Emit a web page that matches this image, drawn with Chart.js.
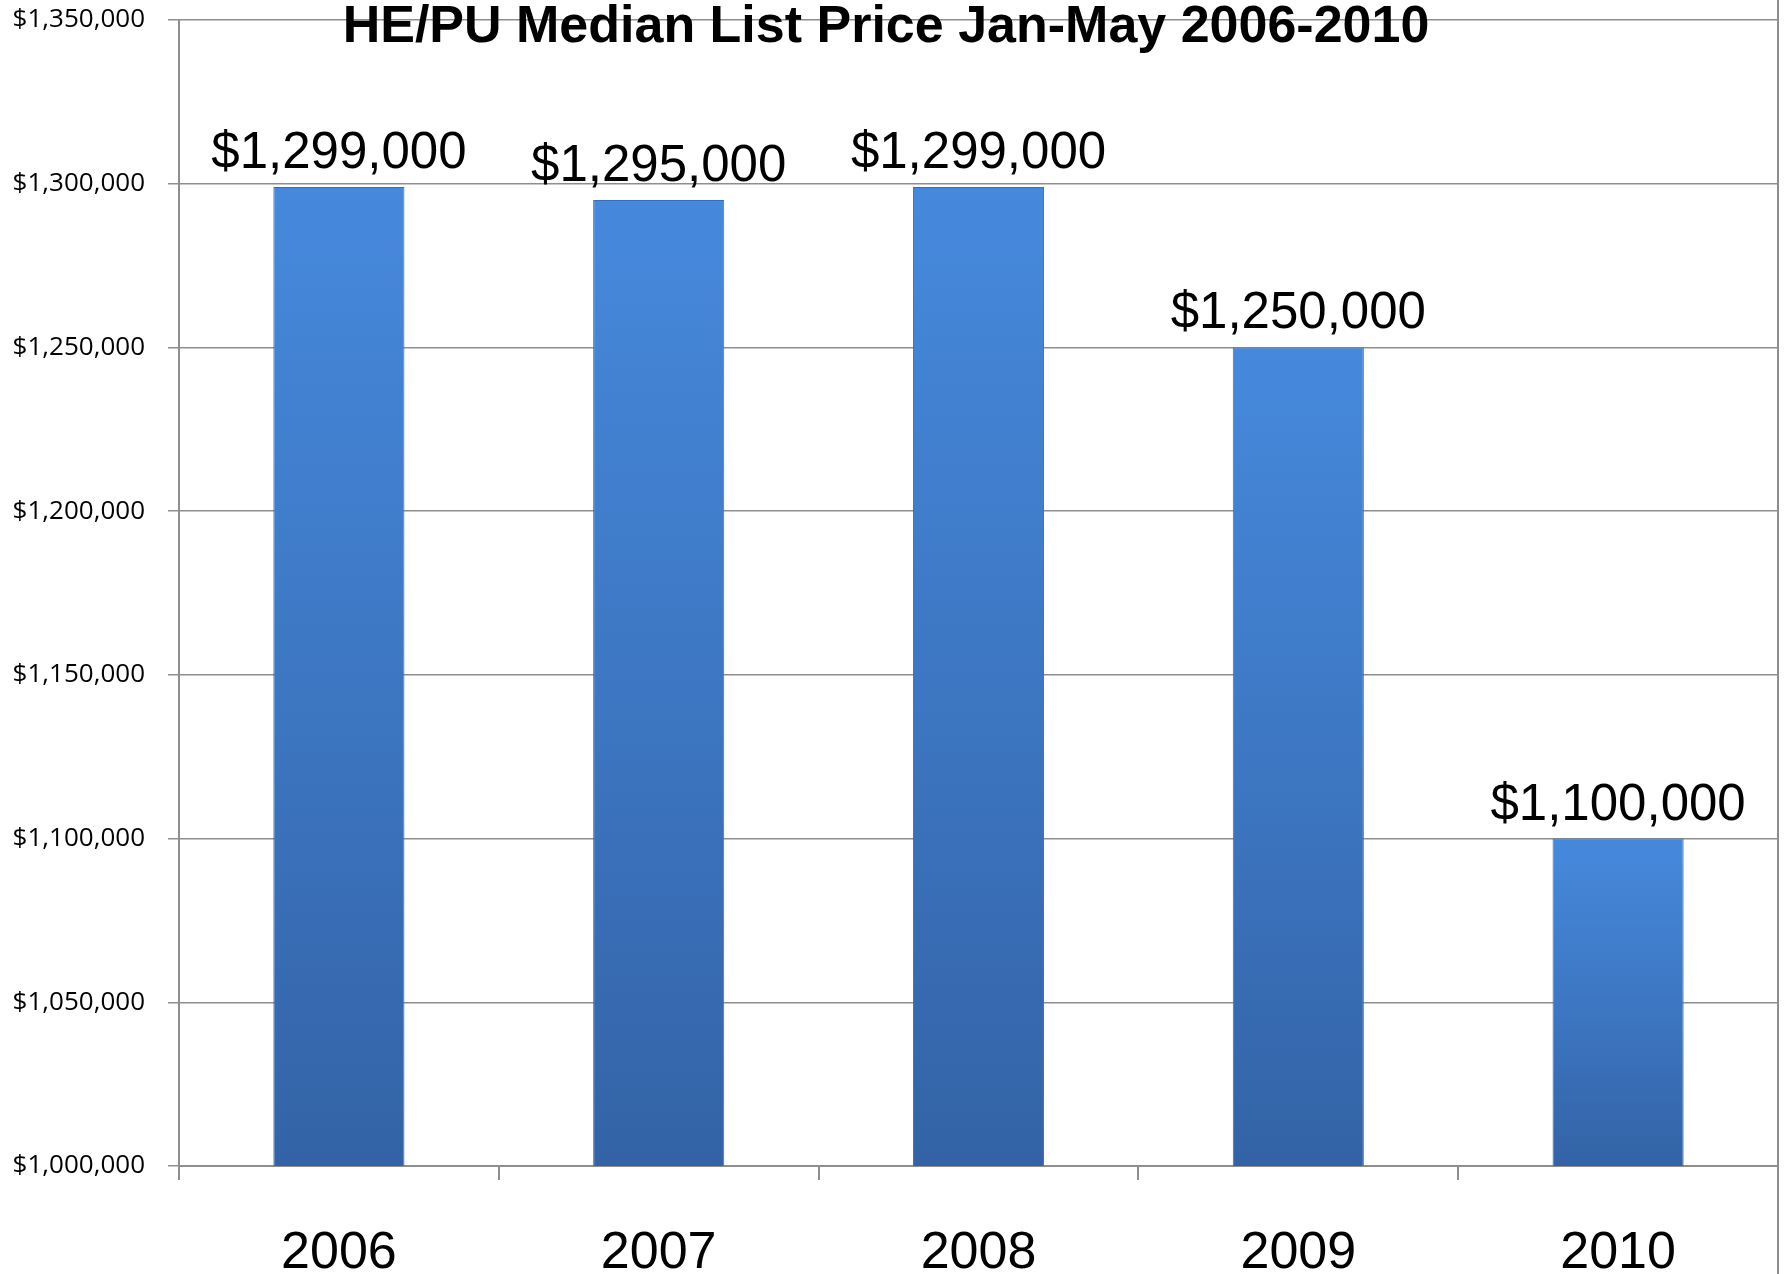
<!DOCTYPE html>
<html>
<head>
<meta charset="utf-8">
<script src="https://cdn.jsdelivr.net/npm/chart.js@4/dist/chart.umd.min.js"></script>
<style>
  html, body { margin: 0; padding: 0; background: #fff; }
  #wrap { width: 1789px; height: 1274px; position: relative; }
</style>
</head>
<body>
<div id="wrap"><canvas id="myChart"></canvas></div>
<script>
const chartTitle = "HE/PU Median List Price Jan-May 2006-2010";
const years = ["2006", "2007", "2008", "2009", "2010"];
const medianPrices = [1299000, 1295000, 1299000, 1250000, 1100000];
const yTickValues = [1000000, 1050000, 1100000, 1150000, 1200000, 1250000, 1300000, 1350000];

const money = (v) => "$" + v.toLocaleString("en-US");

// bar fill: light blue at the top of each bar, darker toward the base
const barFill = (c) => {
  const chart = c.chart;
  if (!chart.chartArea || c.parsed == null) return "#3f7cc9";
  const y = chart.scales.y;
  const top = y.getPixelForValue(c.parsed.y);
  const g = chart.ctx.createLinearGradient(0, top, 0, y.bottom);
  g.addColorStop(0, "#4689dc");
  g.addColorStop(0.5, "#3d77c3");
  g.addColorStop(1, "#3363a6");
  return g;
};

const extras = {
  id: "extras",
  afterDatasetsDraw(chart) {
    const ctx = chart.ctx;
    const meta = chart.getDatasetMeta(0);
    ctx.save();
    ctx.fillStyle = "#000";
    ctx.font = "51px 'Liberation Sans', Arial, sans-serif";
    ctx.textAlign = "center";
    ctx.textBaseline = "alphabetic";
    meta.data.forEach((bar, i) => {
      ctx.fillText(money(medianPrices[i]), bar.x, bar.y - 19);
    });
    ctx.restore();
  },
  afterDraw(chart) {
    const ctx = chart.ctx;
    const area = chart.chartArea;
    ctx.save();
    // right frame edge
    ctx.strokeStyle = "#8e8e8e";
    ctx.lineWidth = 2;
    ctx.beginPath();
    ctx.moveTo(area.right, 0);
    ctx.lineTo(area.right, chart.height);
    ctx.stroke();
    // title sits over the top gridline
    ctx.fillStyle = "#000";
    ctx.font = "bold 52px 'Liberation Sans', Arial, sans-serif";
    ctx.textAlign = "center";
    ctx.textBaseline = "alphabetic";
    ctx.fillText(chartTitle, 886, 42);
    ctx.restore();
  }
};

new Chart(document.getElementById("myChart"), {
  type: "bar",
  data: {
    labels: years,
    datasets: [{
      label: "Median List Price",
      data: medianPrices,
      backgroundColor: barFill,
      borderColor: "#3a6db3",
      borderWidth: 1,
      barPercentage: 0.41,
      categoryPercentage: 1
    }]
  },
  options: {
    responsive: true,
    maintainAspectRatio: false,
    animation: false,
    layout: { padding: { top: 20, right: 11, left: 0, bottom: 0 } },
    plugins: {
      legend: { display: false },
      title: { display: false },
      tooltip: { enabled: false }
    },
    scales: {
      x: {
        offset: true,
        grid: {
          offset: true,
          drawOnChartArea: false,
          drawTicks: true,
          tickLength: 14,
          color: "#8e8e8e",
          lineWidth: 2
        },
        border: { color: "#8e8e8e", width: 2 },
        ticks: {
          color: "#000",
          padding: 42,
          font: { family: "'Liberation Sans', Arial, sans-serif", size: 52 }
        },
        afterFit: (s) => { s.height = 108; }
      },
      y: {
        min: yTickValues[0],
        max: yTickValues[yTickValues.length - 1],
        afterBuildTicks: (s) => { s.ticks = yTickValues.map((v) => ({ value: v })); },
        grid: {
          color: "#8e8e8e",
          lineWidth: 1.5,
          tickLength: 11
        },
        border: { color: "#8e8e8e", width: 2 },
        ticks: {
          color: "#000",
          padding: 23,
          font: { family: "'Open Sans', sans-serif", size: 26 },
          callback: (v) => money(v)
        },
        afterFit: (s) => {
          s.width = 179;
          // tick padding would otherwise push the plot top down
          s.paddingTop = 14;
          s.paddingBottom = 14;
        }
      }
    }
  },
  plugins: [extras]
});
</script>
</body>
</html>
